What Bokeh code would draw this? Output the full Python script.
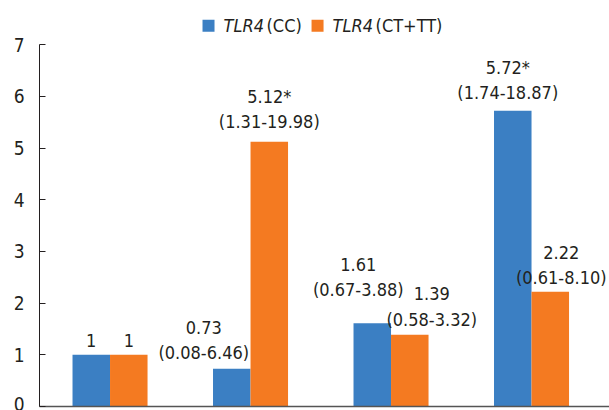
from bokeh.plotting import figure
from bokeh.models import Range1d, FixedTicker, Label, ColumnDataSource
from bokeh.core.properties import value
from bokeh.embed import file_html
from bokeh.resources import INLINE
import numpy as np

# ---- data ----
categories = ["Group 1", "Group 2", "Group 3", "Group 4"]
cc_values = [1.00, 0.73, 1.61, 5.72]
ct_values = [1.00, 5.12, 1.39, 2.22]
cc_labels = ["1", "0.73\n(0.08-6.46)", "1.61\n(0.67-3.88)", "5.72*\n(1.74-18.87)"]
ct_labels = ["1", "5.12*\n(1.31-19.98)", "1.39\n(0.58-3.32)", "2.22\n(0.61-8.10)"]
y_ticks = [0, 1, 2, 3, 4, 5, 6, 7]

# ---- layout / style ----
FONT = "DejaVu Sans Condensed, Liberation Sans, sans-serif"
TXT = "#231f20"
BLUE = "#3b7fc3"
ORANGE = "#f47a21"
BAR_W = 0.267
cc_xoff = [0, -28, -14, -5]
cc_yoff = [-8, -6, -23, -8]
ct_xoff = [0, 0, 22, 11]
ct_yoff = [-8, -10, -5, -4]

idx = np.arange(len(categories))

p = figure(frame_width=570, frame_height=398,
           x_range=Range1d(-0.502, 3.555), y_range=Range1d(0, 7.7),
           output_backend="svg", toolbar_location=None,
           min_border_left=39, min_border_right=0, min_border_top=8,
           min_border_bottom=4)
p.outline_line_color = None
p.xgrid.visible = False
p.ygrid.visible = False

src_cc = ColumnDataSource(dict(x=idx - BAR_W / 2, top=cc_values, text=cc_labels,
                               xo=cc_xoff, yo=cc_yoff))
src_ct = ColumnDataSource(dict(x=idx + BAR_W / 2, top=ct_values, text=ct_labels,
                               xo=ct_xoff, yo=ct_yoff))

p.vbar(x="x", top="top", width=BAR_W, source=src_cc, fill_color=BLUE, line_color=None)
p.vbar(x="x", top="top", width=BAR_W, source=src_ct, fill_color=ORANGE, line_color=None)

for src in (src_cc, src_ct):
    p.text(x="x", y="top", text="text", source=src, x_offset="xo", y_offset="yo",
           text_align="center", text_baseline="bottom",
           text_font=value(FONT), text_font_size="18px", text_color=TXT,
           text_line_height=1.2)

# y axis
ya = p.yaxis[0]
ya.ticker = FixedTicker(ticks=y_ticks)
ya.bounds = (0, 7)
ya.major_tick_in = 6
ya.major_tick_out = 0
ya.minor_tick_line_color = None
ya.axis_line_color = TXT
ya.major_tick_line_color = TXT
ya.major_label_text_font = FONT
ya.major_label_text_font_size = "19px"
ya.major_label_text_color = TXT
ya.major_label_standoff = 15

# x axis: line only
xa = p.xaxis[0]
xa.ticker = FixedTicker(ticks=[])
xa.major_tick_line_color = None
xa.minor_tick_line_color = None
xa.axis_line_color = "#555555"
xa.axis_line_width = 1.5

# legend (manual, for partial italics)
ly = 7.367
for sx, tx, col, rest in [(0.701, 0.808, BLUE, "(CC)"), (1.477, 1.584, ORANGE, "(CT+TT)")]:
    p.scatter(x=[sx], y=[ly], marker="square", size=12, fill_color=col, line_color=None)
    p.add_layout(Label(x=tx, y=ly, text="TLR4", text_font=FONT, text_font_style="italic",
                       text_font_size="18px", text_color=TXT, text_baseline="middle"))
    p.add_layout(Label(x=tx + 0.306, y=ly, text=rest, text_font=FONT,
                       text_font_size="18px", text_color=TXT, text_baseline="middle"))

open("out.html", "w").write(file_html(p, INLINE))
